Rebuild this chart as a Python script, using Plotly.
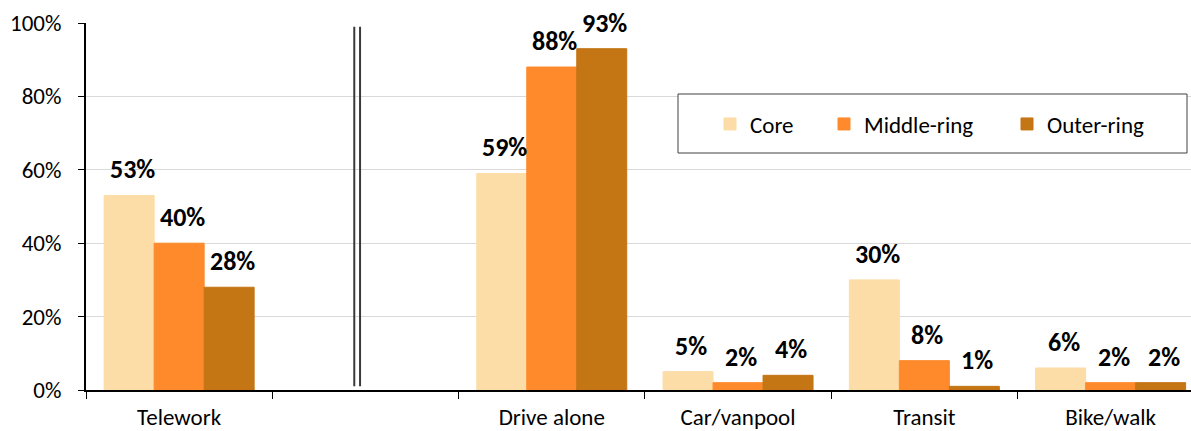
import plotly.graph_objects as go

categories = ["Telework", "", "Drive alone", "Car/vanpool", "Transit", "Bike/walk"]
series_names = ["Core", "Middle-ring", "Outer-ring"]
core = [53, None, 59, 5, 30, 6]
middle = [40, None, 88, 2, 8, 2]
outer = [28, None, 93, 4, 1, 2]
colors = ["#FDDDA7", "#FE8A2C", "#C47514"]
y_ticks = [0, 20, 40, 60, 80, 100]

FONT = "Carlito, Calibri, Lato, sans-serif"
W, H = 1191, 431
ML, MR, MT, MB = 86, 0, 23, 41
pw = W - ML - MR
ph = H - MT - MB

bargap = 0.195
bw = (1 - bargap) / 3
pos = list(range(len(categories)))

fig = go.Figure()
series = [core, middle, outer]
legend_refs = ["legend", "legend2", "legend3"]
for s, (name, vals, col) in enumerate(zip(series_names, series, colors)):
    fig.add_trace(go.Bar(
        x=pos, y=vals, name=name, marker=dict(color=col, line=dict(width=1, color=col)),
        legend=legend_refs[s], showlegend=True,
    ))
    for i, v in enumerate(vals):
        if v is None:
            continue
        fig.add_annotation(
            x=i + (s - 1) * bw, y=v, text=f"<b>{v}%</b>", showarrow=False,
            yanchor="bottom", yshift=8, xshift=3,
            font=dict(family=FONT, size=26, color="black"),
        )

x_lo = -0.5
cat_px = 186.3
x_hi = x_lo + pw / cat_px

def px_to_xpaper(px):
    return (px - ML) / pw

def py_to_ypaper(py):
    return (H - MB - py) / ph

# double separator line
for xv in [0.94, 0.971]:
    fig.add_shape(type="line", xref="x", yref="y", x0=xv, x1=xv, y0=1, y1=99,
                  line=dict(color="#3a3a3a", width=2), layer="above")

# legend frame
fig.add_shape(type="rect", xref="paper", yref="paper",
              x0=px_to_xpaper(678), x1=px_to_xpaper(1187),
              y0=py_to_ypaper(153), y1=py_to_ypaper(94),
              line=dict(color="#404040", width=1), fillcolor="white", layer="above")

legend_common = dict(orientation="v", bgcolor="rgba(0,0,0,0)", borderwidth=0,
                     font=dict(family=FONT, size=23, color="black"),
                     xanchor="left", yanchor="middle", y=py_to_ypaper(124),
                     itemwidth=30, tracegroupgap=0)
swatch_centers = [734, 848, 1031]
legend_layout = {}
for ref, sc in zip(legend_refs, swatch_centers):
    legend_layout[ref] = dict(legend_common, x=px_to_xpaper(sc - 24))

fig.update_layout(
    width=W, height=H,
    margin=dict(l=ML, r=MR, t=MT, b=MB, pad=0, autoexpand=False),
    paper_bgcolor="white", plot_bgcolor="white",
    barmode="group", bargap=bargap, bargroupgap=0,
    font=dict(family=FONT, size=23, color="black"),
    xaxis=dict(
        range=[x_lo, x_hi], tickmode="array", tickvals=pos, ticktext=categories,
        ticks="", showgrid=False, zeroline=False, automargin=False,
        showline=True, linecolor="black", linewidth=2,
        ticklabelstandoff=5,
        minor=dict(tick0=-0.5, dtick=1, ticks="outside", ticklen=7,
                   tickwidth=1, tickcolor="black", showgrid=False),
        tickfont=dict(family=FONT, size=23, color="black"),
        fixedrange=True,
    ),
    yaxis=dict(
        range=[0, 100], tickmode="array", tickvals=y_ticks,
        ticktext=[f"{v}%" for v in y_ticks], automargin=False,
        ticks="outside", ticklen=6, tickcolor="black", tickwidth=1,
        ticklabelstandoff=12,
        showgrid=True, gridcolor="#d9d9d9", gridwidth=1,
        zeroline=False, showline=True, linecolor="black", linewidth=2,
        tickfont=dict(family=FONT, size=23, color="black"),
        fixedrange=True,
    ),
    **legend_layout,
)

fig.write_html("out.html", config={"displayModeBar": False},
               post_script="document.body.style.margin='0';document.body.style.overflow='hidden';")
